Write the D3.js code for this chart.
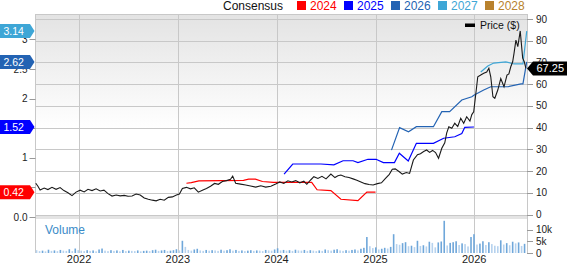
<!DOCTYPE html>
<html><head><meta charset="utf-8">
<script src="https://cdn.jsdelivr.net/npm/d3@7"></script>
<style>body{margin:0;background:#fff}svg{display:block}text{font-family:"Liberation Sans",Arial,sans-serif}</style>
</head><body><svg id="c" width="568" height="264"></svg>
<script>
const legendYears = ["2024","2025","2026","2027","2028"];
const legendColors = ["#ff0000","#0000ff","#2363b3","#3ea6d6","#b8822e"];
const yearTicks = ["2022","2023","2024","2025","2026"];
const rightTicks = [0,10,20,30,40,50,60,70,80,90];
const leftTicks = [0,0.5,1,1.5,2,2.5,3];
const leftTickLabelValues = [0,1,2,2.5,3];
const leftTickLabels = ["0.0","1","2","2.5","3"];
const volTicks = [0,5000,10000];
const volTickLabels = ["0","5k","10k"];
const lastPrice = 67.25;
const estEndValues = [0.42,1.52,2.62,3.14];
const estEndColorIdx = [0,1,2,3];

const priceSeries = [
["2021-07-25",14.4],["2021-08-02",13.0],["2021-08-10",11.3],["2021-08-25",12.2],["2021-09-08",11.5],["2021-09-23",12.5],["2021-10-08",11.6],["2021-10-23",12.4],["2021-11-06",11.0],["2021-11-21",10.0],["2021-12-06",8.7],["2021-12-21",10.3],
["2022-01-05",11.2],["2022-01-20",10.4],["2022-02-03",11.6],["2022-02-18",11.0],["2022-03-05",11.8],["2022-03-20",10.8],["2022-04-03",11.2],["2022-04-18",9.6],["2022-05-03",8.5],["2022-05-18",9.0],["2022-06-02",8.6],["2022-06-17",8.8],["2022-07-01",8.4],["2022-07-16",8.5],["2022-07-31",9.4],["2022-08-15",9.0],["2022-08-30",7.6],["2022-09-14",7.0],["2022-09-29",6.6],["2022-10-13",6.3],["2022-10-28",7.0],["2022-11-12",6.6],["2022-11-27",7.9],["2022-12-12",8.1],["2022-12-27",9.0],
["2023-01-07",9.4],["2023-01-18",12.0],["2023-02-02",12.5],["2023-02-17",11.8],["2023-03-03",12.3],["2023-03-18",10.3],["2023-04-02",11.2],["2023-04-17",12.0],["2023-05-02",13.0],["2023-05-17",14.3],["2023-05-31",13.9],["2023-06-15",15.2],["2023-06-30",15.6],["2023-07-15",16.2],["2023-07-23",17.7],["2023-08-03",14.4],["2023-08-21",14.0],["2023-09-09",13.6],["2023-09-27",13.1],["2023-10-16",12.6],["2023-11-04",13.2],["2023-11-22",12.6],["2023-12-11",13.0],["2023-12-29",14.0],
["2024-01-13",15.0],["2024-01-28",14.3],["2024-02-12",15.5],["2024-02-26",15.0],["2024-03-12",15.6],["2024-03-27",14.6],["2024-04-11",15.3],["2024-04-22",13.9],["2024-05-07",16.0],["2024-05-18",17.4],["2024-06-02",16.6],["2024-06-17",17.6],["2024-07-02",16.4],["2024-07-20",18.6],["2024-08-04",17.0],["2024-08-15",17.8],["2024-08-26",18.2],["2024-09-10",17.4],["2024-09-25",17.0],["2024-10-10",16.4],["2024-10-24",15.8],["2024-11-08",15.0],["2024-11-23",14.2],["2024-12-08",13.8],["2024-12-23",13.6],
["2025-01-08",14.2],["2025-01-23",14.6],["2025-02-06",16.5],["2025-02-21",18.5],["2025-03-04",20.8],["2025-03-15",21.0],["2025-03-30",19.7],["2025-04-10",18.6],["2025-04-25",19.3],["2025-05-07",18.9],["2025-05-21",25.1],["2025-06-05",27.5],["2025-06-16",28.0],["2025-06-28",29.0],["2025-07-09",29.7],["2025-07-20",28.6],["2025-07-31",29.5],["2025-08-11",28.5],["2025-08-22",25.9],["2025-09-03",30.5],["2025-09-14",33.0],["2025-09-21",37.5],["2025-09-29",40.4],["2025-10-10",39.7],["2025-10-21",42.0],["2025-11-01",40.5],["2025-11-12",44.3],["2025-11-23",42.0],["2025-12-04",45.0],["2025-12-16",43.0],["2025-12-23",46.0],["2025-12-30",47.3],
["2026-01-07",55.8],["2026-01-14",63.4],["2026-01-25",64.2],["2026-02-05",65.0],["2026-02-16",65.6],["2026-02-24",67.3],["2026-03-03",63.4],["2026-03-11",54.2],["2026-03-18",53.5],["2026-03-29",57.3],["2026-04-09",62.6],["2026-04-21",58.8],["2026-05-02",64.2],["2026-05-09",64.7],["2026-05-16",68.0],["2026-05-23",70.3],["2026-05-28",74.2],["2026-06-04",80.3],["2026-06-11",77.3],["2026-06-20",84.5],["2026-06-29",72.0],["2026-07-05",70.3],["2026-07-11",67.25]
];
const est2024 = [["2023-02-02",0.57],["2023-02-20",0.58],["2023-03-20",0.61],["2023-09-01",0.62],["2023-09-20",0.64],["2023-10-15",0.64],["2023-11-10",0.60],["2023-12-20",0.585],["2024-05-10",0.585],["2024-05-30",0.46],["2024-07-20",0.445],["2024-08-26",0.30],["2024-10-28",0.275],["2024-11-30",0.42],["2025-01-01",0.42]];
const est2025 = [["2024-01-29",0.726],["2024-03-01",0.895],["2024-06-13",0.895],["2024-07-31",0.88],["2024-09-03",0.95],["2024-10-10",0.95],["2024-10-28",0.92],["2024-12-04",0.975],["2025-01-03",0.975],["2025-01-30",0.92],["2025-03-12",0.92],["2025-03-30",1.076],["2025-05-02",0.946],["2025-06-01",1.245],["2025-08-03",1.245],["2025-09-10",1.33],["2025-10-21",1.356],["2025-11-16",1.41],["2025-11-27",1.515],["2025-12-31",1.52]];
const est2026 = [["2025-03-01",1.13],["2025-03-31",1.51],["2025-05-03",1.44],["2025-06-01",1.525],["2025-08-03",1.525],["2025-09-03",1.78],["2025-10-02",1.78],["2025-11-16",1.976],["2025-12-23",2.03],["2026-01-01",2.06],["2026-02-05",2.145],["2026-03-03",2.2],["2026-05-05",2.2],["2026-06-23",2.25],["2026-06-30",2.25],["2026-07-14",2.62]];
const est2027 = [["2026-01-25",2.45],["2026-02-20",2.55],["2026-03-14",2.6],["2026-04-28",2.62],["2026-05-28",2.585],["2026-06-30",2.585],["2026-07-14",3.14]];

const volumeStart = "2021-07-28";
const volumeStepDays = 11;
const volumeK = [
1.2,0.8,1.0,0.7,1.4,0.9,1.1,0.8,1.3,1.0,0.9,1.6,0.8,1.9,1.2,
1.0,0.8,1.2,0.9,1.1,0.7,1.5,1.9,1.0,0.8,1.2,0.9,1.1,0.7,1.3,0.8,1.0,0.9,0.8,1.1,0.7,0.9,1.0,0.8,1.2,1.4,0.9,1.1,1.3,0.8,1.0,1.2,1.6,
1.1,5.2,2.6,1.3,1.0,1.5,1.8,1.1,0.9,1.3,1.0,1.2,1.1,0.9,1.4,1.0,1.2,1.6,1.0,1.3,0.9,1.1,0.8,1.0,1.2,0.9,1.1,1.0,0.8,1.3,1.1,1.0,1.5,
2.0,1.1,1.3,1.0,1.2,0.9,1.4,1.1,1.0,1.3,0.9,1.2,1.0,0.8,1.1,0.9,1.5,1.2,1.0,1.4,1.6,1.1,0.9,1.2,1.0,1.3,1.5,1.1,1.8,2.2,6.8,2.9,2.1,
2.4,1.5,1.8,2.2,1.9,2.6,8.0,3.8,3.5,4.2,4.6,2.9,3.1,2.5,5.2,3.0,3.3,2.8,4.8,4.3,2.4,4.5,4.9,13.7,3.2,4.3,4.6,5.0,3.4,4.1,3.8,2.8,6.8,
8.0,3.6,4.0,5.0,3.4,4.6,3.8,3.1,2.9,5.4,3.6,4.2,3.3,4.8,4.1,4.5,3.0,3.9
];

const parse = d3.timeParse("%Y-%m-%d");
const L = 35.5, R = 527, T = 14, PB = 216, VT = 219, VB = 253;
const x = d3.scaleTime().domain([parse("2021-07-24"), parse("2026-07-15")]).range([L, R]);
const yR = d3.scaleLinear().domain([0, 90]).range([214.5, 19]);
const yL = d3.scaleLinear().domain([0, 3]).range([217, 39.4]);
const yV = d3.scaleLinear().domain([0, 10000]).range([VB, 229.5]);

const svg = d3.select("#c");
const defs = svg.append("defs");
const g = defs.append("linearGradient").attr("id","bg").attr("x1",0).attr("x2",0).attr("y1",0).attr("y2",1);
g.append("stop").attr("offset","0%").attr("stop-color","#e3e3e3");
g.append("stop").attr("offset","57%").attr("stop-color","#ffffff");
g.append("stop").attr("offset","100%").attr("stop-color","#ffffff");

svg.append("rect").attr("x",L).attr("y",T).attr("width",R-L).attr("height",PB-T).attr("fill","url(#bg)");
svg.append("rect").attr("x",L).attr("y",PB-0.5).attr("width",R-L).attr("height",VT-PB+0.5).attr("fill","#e4e4e4");

const grid = "#c8c8c8";
svg.append("g").selectAll("line").data(rightTicks).join("line")
  .attr("x1",L).attr("x2",R).attr("y1",d=>Math.round(yR(d))+0.5).attr("y2",d=>Math.round(yR(d))+0.5)
  .attr("stroke",grid);
svg.append("g").selectAll("line").data(yearTicks).join("line")
  .attr("x1",d=>Math.round(x(parse(d+"-01-01")))+0.5).attr("x2",d=>Math.round(x(parse(d+"-01-01")))+0.5)
  .attr("y1",T).attr("y2",VB).attr("stroke",grid);
svg.append("line").attr("x1",L).attr("x2",R).attr("y1",T+0.5).attr("y2",T+0.5).attr("stroke",grid);
svg.append("line").attr("x1",L).attr("x2",L).attr("y1",T).attr("y2",VB).attr("stroke",grid);
svg.append("line").attr("x1",R+0.5).attr("x2",R+0.5).attr("y1",T).attr("y2",VB).attr("stroke",grid);

const vStart = parse(volumeStart);
svg.append("g").selectAll("rect").data(volumeK).join("rect")
  .attr("x",(d,i)=>x(d3.timeDay.offset(vStart, i*volumeStepDays))-0.8)
  .attr("width",1.6)
  .attr("y",d=>yV(d*1000))
  .attr("height",d=>VB-yV(d*1000))
  .attr("fill",(d,i)=> (i>0 && d>volumeK[i-1]) ? "#6fa7da" : "#b6d2ee");

svg.append("text").attr("x",45).attr("y",233.5).attr("font-size",12).attr("fill","#3a8bc8").text("Volume");

const lineL = d3.line().x(d=>x(parse(d[0]))).y(d=>yL(d[1]));
const lineR = d3.line().x(d=>x(parse(d[0]))).y(d=>yR(d[1]));
[[est2024,0],[est2025,1],[est2026,2],[est2027,3]].forEach(([s,ci])=>{
  svg.append("path").attr("d",lineL(s)).attr("fill","none").attr("stroke",legendColors[ci]).attr("stroke-width",1.2);
});
svg.append("path").attr("d",lineR(priceSeries)).attr("fill","none").attr("stroke","#1a1a1a").attr("stroke-width",1.1);

const ra = svg.append("g").attr("font-size",10).attr("fill","#222");
ra.selectAll("line").data(rightTicks).join("line")
  .attr("x1",R).attr("x2",R+6).attr("y1",d=>Math.round(yR(d))+0.5).attr("y2",d=>Math.round(yR(d))+0.5).attr("stroke","#999");
ra.selectAll("text").data(rightTicks).join("text")
  .attr("x",R+9).attr("y",d=>yR(d)).attr("dy","0.36em").text(d=>d);
const va = svg.append("g").attr("font-size",10).attr("fill","#222");
va.selectAll("line").data(volTicks).join("line")
  .attr("x1",R).attr("x2",R+6).attr("y1",d=>Math.round(yV(d))+0.5).attr("y2",d=>Math.round(yV(d))+0.5).attr("stroke","#999");
va.selectAll("text").data(volTicks).join("text")
  .attr("x",R+9).attr("y",d=>yV(d)).attr("dy","0.36em").text((d,i)=>volTickLabels[i]);

const la = svg.append("g").attr("font-size",10).attr("fill","#222");
la.selectAll("line").data(leftTicks).join("line")
  .attr("x1",L-6).attr("x2",L).attr("y1",d=>Math.round(yL(d))+0.5).attr("y2",d=>Math.round(yL(d))+0.5).attr("stroke","#999");
la.selectAll("text").data(leftTickLabelValues).join("text")
  .attr("x",L-8).attr("text-anchor","end").attr("y",d=>yL(d)).attr("dy","0.36em").text((d,i)=>leftTickLabels[i]);

svg.append("g").selectAll("text").data(yearTicks).join("text")
  .attr("x",d=>x(parse(d+"-01-01"))).attr("y",263).attr("text-anchor","middle").attr("font-size",11).attr("fill","#222").text(d=>d);

estEndValues.forEach((v,i)=>{
  const y = yL(v);
  svg.append("path").attr("d",`M0,${y-7}H30L34.5,${y}L30,${y+7}H0Z`).attr("fill",legendColors[estEndColorIdx[i]]);
  svg.append("text").attr("x",3.5).attr("y",y).attr("dy","0.36em").attr("font-size",10.5).attr("fill","#fff").text(v.toFixed(2));
});

{
  const y = yR(lastPrice);
  svg.append("path").attr("d",`M${R},${y}L${R+6},${y-7}H567V${y+7}H${R+6}Z`).attr("fill","#000");
  svg.append("text").attr("x",R+9.5).attr("y",y).attr("dy","0.36em").attr("font-size",11).attr("fill","#fff").text(lastPrice.toFixed(2));
}

svg.append("text").attr("x",223).attr("y",10).attr("font-size",12).attr("fill","#111").text("Consensus");
legendYears.forEach((yr,i)=>{
  svg.append("rect").attr("x",297+i*47).attr("y",1).attr("width",9).attr("height",9).attr("fill",legendColors[i]);
  svg.append("text").attr("x",310+i*47).attr("y",10).attr("font-size",12).attr("fill",legendColors[i]).text(yr);
});

svg.append("rect").attr("x",465).attr("y",23.5).attr("width",10).attr("height",3.5).attr("fill","#000");
svg.append("text").attr("x",480).attr("y",28.5).attr("font-size",10.5).attr("fill","#111").text("Price ($)");
</script></body></html>
